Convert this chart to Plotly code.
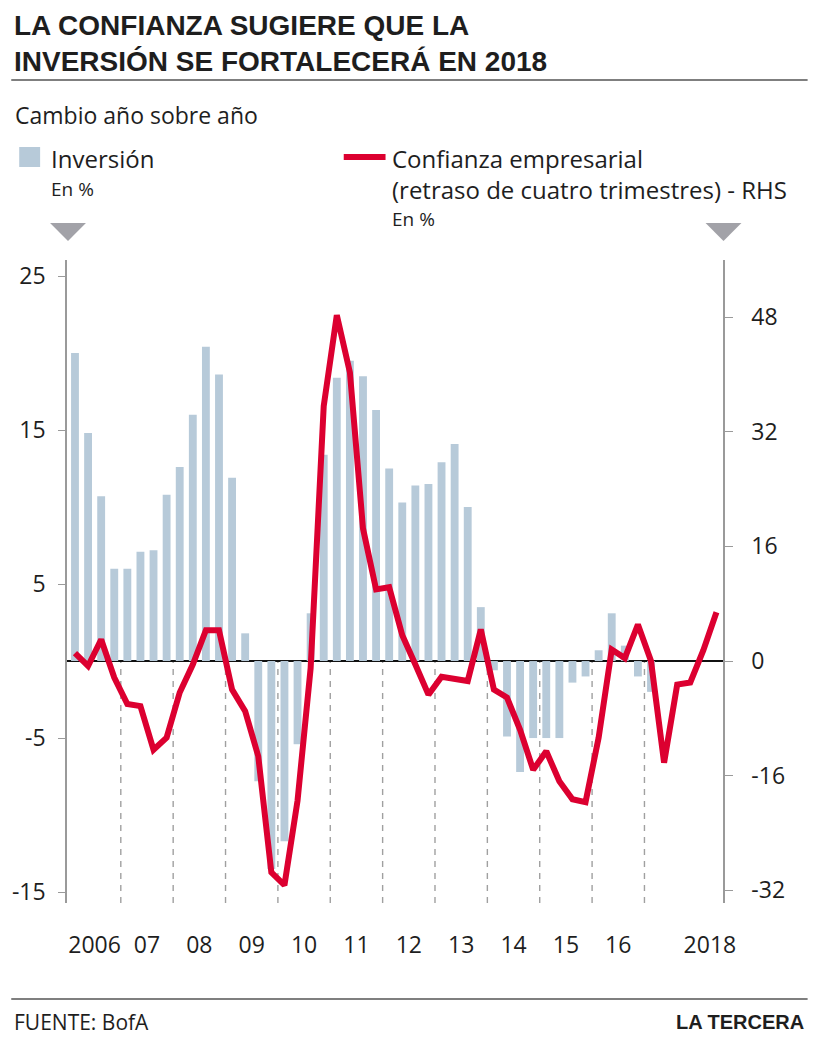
import plotly.graph_objects as go

# ---- data ----
start_year = 2006
inversion = [20.0, 14.8, 10.7, 6.0, 6.0, 7.1, 7.2, 10.8, 12.6, 16.0, 20.4, 18.6, 11.9, 1.8,
             -7.8, -13.5, -11.7, -5.4, 3.1, 13.4, 18.4, 19.5, 18.5, 16.3, 12.5, 10.3, 11.4,
             11.5, 12.9, 14.1, 10.0, 3.5, -0.6, -4.9, -7.2, -5.0, -5.0, -5.0, -1.4, -1.0,
             0.7, 3.1, 1.0, -1.0, -2.0]
confianza = [1.1, -0.7, 3.0, -2.3, -6.0, -6.3, -12.4, -10.7, -4.4, -0.5, 4.3, 4.3, -4.0,
             -7.0, -13.3, -29.5, -31.3, -19.5, -1.0, 35.6, 48.3, 40.3, 18.5, 10.0, 10.3,
             3.6, -0.5, -4.7, -2.2, -2.5, -2.8, 4.4, -4.0, -5.1, -9.6, -15.2, -12.6, -16.8,
             -19.3, -19.7, -10.7, 1.6, 0.4, 5.1, 0.0, -14.2, -3.3, -3.0, 1.5, 6.8]
tick_years = [2006, 2007, 2008, 2009, 2010, 2011, 2012, 2013, 2014, 2015, 2016, 2018]
tick_labels = ["2006", "07", "08", "09", "10", "11", "12", "13", "14", "15", "16", "2018"]
left_ticks = [-15, -5, 5, 15, 25]
right_ticks = [-32, -16, 0, 16, 32, 48]

n_q = len(confianza)
xq = list(range(n_q))
quarter_year = [start_year + i // 4 for i in xq]
quarter_names = [f"{start_year + i // 4} T{i % 4 + 1}" for i in xq]

tickvals = []
for yr in tick_years:
    idx = [i for i in xq if quarter_year[i] == yr]
    tickvals.append(sum(idx) / len(idx))
boundaries = [i - 0.5 for i in xq if i > 0 and i % 4 == 0 and i < len(inversion)]

# ---- style ----
W, H = 820, 1039
PL, PR, PT, PB = 64, 723, 260, 903
BAR = "#b7cad9"
RED = "#dc0030"
TXT = "#1e1e1e"
AX = "#9a9a9a"
BODY = "Open Sans, Liberation Sans, sans-serif"
BOLD = "Liberation Sans, Arial, sans-serif"

def px(x):
    return (x - PL) / (PR - PL)

def py(y):
    return (PB - y) / (PB - PT)

fig = go.Figure()
fig.add_trace(go.Bar(x=xq[:len(inversion)], y=inversion, name="Inversión",
                     marker=dict(color=BAR, line=dict(width=0)), width=0.6,
                     hovertext=quarter_names[:len(inversion)], yaxis="y"))
fig.add_trace(go.Scatter(x=xq, y=confianza, name="Confianza empresarial",
                         mode="lines", line=dict(color=RED, width=6),
                         hovertext=quarter_names, yaxis="y2"))

yl = [-15.71, 26.04]
yr2 = [-33.79, 55.99]

shapes = []
for b in boundaries:
    shapes.append(dict(type="line", xref="x", yref="y", x0=b, x1=b, y0=yl[0], y1=0,
                       line=dict(color="#a0a0a0", width=1.4, dash="6px,6px"), layer="below"))
# rules
for yy in (80, 999):
    shapes.append(dict(type="line", xref="paper", yref="paper", x0=px(8), x1=px(808),
                       y0=py(yy), y1=py(yy), line=dict(color="#555555", width=1.6)))
# legend swatches
shapes.append(dict(type="rect", xref="paper", yref="paper", x0=px(16), x1=px(37),
                   y0=py(167), y1=py(147), fillcolor=BAR, line=dict(width=0)))
shapes.append(dict(type="line", xref="paper", yref="paper", x0=px(342), x1=px(384),
                   y0=py(157), y1=py(157), line=dict(color=RED, width=6)))
# triangles
for cx in (65, 723.5):
    path = f"M {px(cx-18)},{py(223)} L {px(cx+18)},{py(223)} L {px(cx)},{py(241)} Z"
    shapes.append(dict(type="path", xref="paper", yref="paper", path=path,
                       fillcolor="#a2a2a8", line=dict(width=0)))

ann = []
def text(x, y, s, size, font=BODY, anchor="left", color=TXT):
    ann.append(dict(x=px(x), y=py(y), xref="paper", yref="paper", text=s, showarrow=False,
                    xanchor=anchor, yanchor="middle", font=dict(family=font, size=size, color=color)))

text(9, 26, "<b>LA CONFIANZA SUGIERE QUE LA</b>", 28, BOLD)
text(9, 61, "<b>INVERSIÓN SE FORTALECERÁ EN 2018</b>", 28, BOLD)
text(10, 115, "Cambio año sobre año", 23)
text(46, 158, "Inversión", 24)
text(46, 189, "En %", 19)
text(388, 158, "Confianza empresarial", 24)
text(388, 190, "(retraso de cuatro trimestres) - RHS", 24)
text(388, 219, "En %", 19)
text(9, 1022, "FUENTE: BofA", 21)
text(806, 1022, "<b>LA TERCERA</b>", 20, BOLD, anchor="right")

fig.update_layout(
    width=W, height=H, margin=dict(l=PL, r=W - PR, t=PT, b=H - PB),
    paper_bgcolor="white", plot_bgcolor="white", showlegend=False,
    bargap=0.4, shapes=shapes, annotations=ann,
    xaxis=dict(range=[-0.61, n_q - 0.5], tickvals=tickvals, ticktext=tick_labels,
               showgrid=False, zeroline=False, showline=False, ticks="outside",
               ticklen=21, tickcolor="rgba(0,0,0,0)",
               tickfont=dict(family=BODY, size=23, color=TXT)),
    yaxis=dict(range=yl, tickvals=left_ticks, ticktext=[str(v) for v in left_ticks],
               showgrid=False, zeroline=True, zerolinecolor="#111111", zerolinewidth=1.5,
               showline=True, linecolor=AX, linewidth=1.5, ticks="outside", ticklen=7,
               tickcolor=AX, tickwidth=1.2, ticklabelstandoff=8,
               tickfont=dict(family=BODY, size=23, color=TXT)),
    yaxis2=dict(range=yr2, tickvals=right_ticks, ticktext=[str(v) for v in right_ticks],
                overlaying="y", side="right", showgrid=False, zeroline=False,
                showline=True, linecolor=AX, linewidth=1.5, ticks="outside", ticklen=8,
                tickcolor=AX, tickwidth=1.2, ticklabelstandoff=14,
                tickfont=dict(family=BODY, size=23, color=TXT)),
)

fig.write_html("out.html")
